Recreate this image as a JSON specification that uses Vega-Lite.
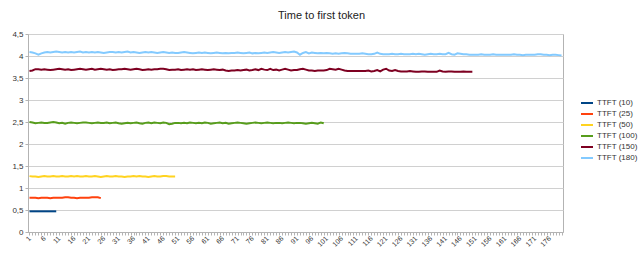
{
"$schema":"https://vega.github.io/schema/vega-lite/v6.json",
"width":535,"height":198,
"autosize":{"type":"none"},
"padding":{"left":28,"top":34,"right":80,"bottom":25},
"background":"white",
"title":{"text":"Time to first token","fontSize":11,"fontWeight":"normal","font":"Liberation Sans","color":"#222222","offset":9,"dx":26,"frame":"group","anchor":"middle"},
"data":{"values":[
{"s":"TTFT (10)","x":1,"y":0.47},{"s":"TTFT (10)","x":2,"y":0.47},{"s":"TTFT (10)","x":3,"y":0.47},{"s":"TTFT (10)","x":4,"y":0.47},{"s":"TTFT (10)","x":5,"y":0.47},{"s":"TTFT (10)","x":6,"y":0.47},{"s":"TTFT (10)","x":7,"y":0.47},{"s":"TTFT (10)","x":8,"y":0.47},{"s":"TTFT (10)","x":9,"y":0.47},{"s":"TTFT (10)","x":10,"y":0.47},
{"s":"TTFT (25)","x":1,"y":0.78},{"s":"TTFT (25)","x":2,"y":0.78},{"s":"TTFT (25)","x":3,"y":0.78},{"s":"TTFT (25)","x":4,"y":0.77},{"s":"TTFT (25)","x":5,"y":0.78},{"s":"TTFT (25)","x":6,"y":0.78},{"s":"TTFT (25)","x":7,"y":0.78},{"s":"TTFT (25)","x":8,"y":0.77},{"s":"TTFT (25)","x":9,"y":0.78},{"s":"TTFT (25)","x":10,"y":0.78},
{"s":"TTFT (25)","x":11,"y":0.78},{"s":"TTFT (25)","x":12,"y":0.78},{"s":"TTFT (25)","x":13,"y":0.79},{"s":"TTFT (25)","x":14,"y":0.79},{"s":"TTFT (25)","x":15,"y":0.78},{"s":"TTFT (25)","x":16,"y":0.78},{"s":"TTFT (25)","x":17,"y":0.77},{"s":"TTFT (25)","x":18,"y":0.78},{"s":"TTFT (25)","x":19,"y":0.78},{"s":"TTFT (25)","x":20,"y":0.78},
{"s":"TTFT (25)","x":21,"y":0.78},{"s":"TTFT (25)","x":22,"y":0.79},{"s":"TTFT (25)","x":23,"y":0.79},{"s":"TTFT (25)","x":24,"y":0.79},{"s":"TTFT (25)","x":25,"y":0.77},
{"s":"TTFT (50)","x":1,"y":1.27},{"s":"TTFT (50)","x":2,"y":1.26},{"s":"TTFT (50)","x":3,"y":1.26},{"s":"TTFT (50)","x":4,"y":1.25},{"s":"TTFT (50)","x":5,"y":1.26},{"s":"TTFT (50)","x":6,"y":1.27},{"s":"TTFT (50)","x":7,"y":1.26},{"s":"TTFT (50)","x":8,"y":1.26},{"s":"TTFT (50)","x":9,"y":1.27},{"s":"TTFT (50)","x":10,"y":1.26},
{"s":"TTFT (50)","x":11,"y":1.26},{"s":"TTFT (50)","x":12,"y":1.27},{"s":"TTFT (50)","x":13,"y":1.26},{"s":"TTFT (50)","x":14,"y":1.26},{"s":"TTFT (50)","x":15,"y":1.27},{"s":"TTFT (50)","x":16,"y":1.26},{"s":"TTFT (50)","x":17,"y":1.27},{"s":"TTFT (50)","x":18,"y":1.26},{"s":"TTFT (50)","x":19,"y":1.26},{"s":"TTFT (50)","x":20,"y":1.27},
{"s":"TTFT (50)","x":21,"y":1.26},{"s":"TTFT (50)","x":22,"y":1.26},{"s":"TTFT (50)","x":23,"y":1.27},{"s":"TTFT (50)","x":24,"y":1.26},{"s":"TTFT (50)","x":25,"y":1.25},{"s":"TTFT (50)","x":26,"y":1.26},{"s":"TTFT (50)","x":27,"y":1.27},{"s":"TTFT (50)","x":28,"y":1.26},{"s":"TTFT (50)","x":29,"y":1.26},{"s":"TTFT (50)","x":30,"y":1.27},
{"s":"TTFT (50)","x":31,"y":1.26},{"s":"TTFT (50)","x":32,"y":1.26},{"s":"TTFT (50)","x":33,"y":1.25},{"s":"TTFT (50)","x":34,"y":1.26},{"s":"TTFT (50)","x":35,"y":1.26},{"s":"TTFT (50)","x":36,"y":1.27},{"s":"TTFT (50)","x":37,"y":1.26},{"s":"TTFT (50)","x":38,"y":1.27},{"s":"TTFT (50)","x":39,"y":1.26},{"s":"TTFT (50)","x":40,"y":1.26},
{"s":"TTFT (50)","x":41,"y":1.25},{"s":"TTFT (50)","x":42,"y":1.26},{"s":"TTFT (50)","x":43,"y":1.27},{"s":"TTFT (50)","x":44,"y":1.26},{"s":"TTFT (50)","x":45,"y":1.26},{"s":"TTFT (50)","x":46,"y":1.27},{"s":"TTFT (50)","x":47,"y":1.27},{"s":"TTFT (50)","x":48,"y":1.26},{"s":"TTFT (50)","x":49,"y":1.26},{"s":"TTFT (50)","x":50,"y":1.26},
{"s":"TTFT (100)","x":1,"y":2.50},{"s":"TTFT (100)","x":2,"y":2.49},{"s":"TTFT (100)","x":3,"y":2.47},{"s":"TTFT (100)","x":4,"y":2.48},{"s":"TTFT (100)","x":5,"y":2.49},{"s":"TTFT (100)","x":6,"y":2.48},{"s":"TTFT (100)","x":7,"y":2.48},{"s":"TTFT (100)","x":8,"y":2.49},{"s":"TTFT (100)","x":9,"y":2.50},{"s":"TTFT (100)","x":10,"y":2.49},
{"s":"TTFT (100)","x":11,"y":2.47},{"s":"TTFT (100)","x":12,"y":2.48},{"s":"TTFT (100)","x":13,"y":2.46},{"s":"TTFT (100)","x":14,"y":2.48},{"s":"TTFT (100)","x":15,"y":2.49},{"s":"TTFT (100)","x":16,"y":2.48},{"s":"TTFT (100)","x":17,"y":2.47},{"s":"TTFT (100)","x":18,"y":2.48},{"s":"TTFT (100)","x":19,"y":2.49},{"s":"TTFT (100)","x":20,"y":2.49},
{"s":"TTFT (100)","x":21,"y":2.48},{"s":"TTFT (100)","x":22,"y":2.47},{"s":"TTFT (100)","x":23,"y":2.48},{"s":"TTFT (100)","x":24,"y":2.49},{"s":"TTFT (100)","x":25,"y":2.48},{"s":"TTFT (100)","x":26,"y":2.48},{"s":"TTFT (100)","x":27,"y":2.49},{"s":"TTFT (100)","x":28,"y":2.47},{"s":"TTFT (100)","x":29,"y":2.48},{"s":"TTFT (100)","x":30,"y":2.49},
{"s":"TTFT (100)","x":31,"y":2.47},{"s":"TTFT (100)","x":32,"y":2.46},{"s":"TTFT (100)","x":33,"y":2.47},{"s":"TTFT (100)","x":34,"y":2.48},{"s":"TTFT (100)","x":35,"y":2.47},{"s":"TTFT (100)","x":36,"y":2.48},{"s":"TTFT (100)","x":37,"y":2.49},{"s":"TTFT (100)","x":38,"y":2.47},{"s":"TTFT (100)","x":39,"y":2.46},{"s":"TTFT (100)","x":40,"y":2.48},
{"s":"TTFT (100)","x":41,"y":2.49},{"s":"TTFT (100)","x":42,"y":2.47},{"s":"TTFT (100)","x":43,"y":2.49},{"s":"TTFT (100)","x":44,"y":2.48},{"s":"TTFT (100)","x":45,"y":2.47},{"s":"TTFT (100)","x":46,"y":2.49},{"s":"TTFT (100)","x":47,"y":2.48},{"s":"TTFT (100)","x":48,"y":2.45},{"s":"TTFT (100)","x":49,"y":2.46},{"s":"TTFT (100)","x":50,"y":2.48},
{"s":"TTFT (100)","x":51,"y":2.48},{"s":"TTFT (100)","x":52,"y":2.47},{"s":"TTFT (100)","x":53,"y":2.48},{"s":"TTFT (100)","x":54,"y":2.47},{"s":"TTFT (100)","x":55,"y":2.49},{"s":"TTFT (100)","x":56,"y":2.48},{"s":"TTFT (100)","x":57,"y":2.47},{"s":"TTFT (100)","x":58,"y":2.48},{"s":"TTFT (100)","x":59,"y":2.47},{"s":"TTFT (100)","x":60,"y":2.49},
{"s":"TTFT (100)","x":61,"y":2.48},{"s":"TTFT (100)","x":62,"y":2.46},{"s":"TTFT (100)","x":63,"y":2.47},{"s":"TTFT (100)","x":64,"y":2.48},{"s":"TTFT (100)","x":65,"y":2.49},{"s":"TTFT (100)","x":66,"y":2.47},{"s":"TTFT (100)","x":67,"y":2.48},{"s":"TTFT (100)","x":68,"y":2.46},{"s":"TTFT (100)","x":69,"y":2.47},{"s":"TTFT (100)","x":70,"y":2.48},
{"s":"TTFT (100)","x":71,"y":2.49},{"s":"TTFT (100)","x":72,"y":2.48},{"s":"TTFT (100)","x":73,"y":2.47},{"s":"TTFT (100)","x":74,"y":2.46},{"s":"TTFT (100)","x":75,"y":2.47},{"s":"TTFT (100)","x":76,"y":2.48},{"s":"TTFT (100)","x":77,"y":2.49},{"s":"TTFT (100)","x":78,"y":2.48},{"s":"TTFT (100)","x":79,"y":2.47},{"s":"TTFT (100)","x":80,"y":2.48},
{"s":"TTFT (100)","x":81,"y":2.49},{"s":"TTFT (100)","x":82,"y":2.48},{"s":"TTFT (100)","x":83,"y":2.47},{"s":"TTFT (100)","x":84,"y":2.48},{"s":"TTFT (100)","x":85,"y":2.48},{"s":"TTFT (100)","x":86,"y":2.47},{"s":"TTFT (100)","x":87,"y":2.48},{"s":"TTFT (100)","x":88,"y":2.49},{"s":"TTFT (100)","x":89,"y":2.48},{"s":"TTFT (100)","x":90,"y":2.47},
{"s":"TTFT (100)","x":91,"y":2.48},{"s":"TTFT (100)","x":92,"y":2.48},{"s":"TTFT (100)","x":93,"y":2.47},{"s":"TTFT (100)","x":94,"y":2.46},{"s":"TTFT (100)","x":95,"y":2.47},{"s":"TTFT (100)","x":96,"y":2.48},{"s":"TTFT (100)","x":97,"y":2.47},{"s":"TTFT (100)","x":98,"y":2.46},{"s":"TTFT (100)","x":99,"y":2.49},{"s":"TTFT (100)","x":100,"y":2.47},
{"s":"TTFT (150)","x":1,"y":3.66},{"s":"TTFT (150)","x":2,"y":3.67},{"s":"TTFT (150)","x":3,"y":3.70},{"s":"TTFT (150)","x":4,"y":3.70},{"s":"TTFT (150)","x":5,"y":3.69},{"s":"TTFT (150)","x":6,"y":3.70},{"s":"TTFT (150)","x":7,"y":3.69},{"s":"TTFT (150)","x":8,"y":3.68},{"s":"TTFT (150)","x":9,"y":3.69},{"s":"TTFT (150)","x":10,"y":3.70},
{"s":"TTFT (150)","x":11,"y":3.71},{"s":"TTFT (150)","x":12,"y":3.70},{"s":"TTFT (150)","x":13,"y":3.69},{"s":"TTFT (150)","x":14,"y":3.70},{"s":"TTFT (150)","x":15,"y":3.68},{"s":"TTFT (150)","x":16,"y":3.69},{"s":"TTFT (150)","x":17,"y":3.70},{"s":"TTFT (150)","x":18,"y":3.71},{"s":"TTFT (150)","x":19,"y":3.70},{"s":"TTFT (150)","x":20,"y":3.69},
{"s":"TTFT (150)","x":21,"y":3.70},{"s":"TTFT (150)","x":22,"y":3.71},{"s":"TTFT (150)","x":23,"y":3.69},{"s":"TTFT (150)","x":24,"y":3.70},{"s":"TTFT (150)","x":25,"y":3.71},{"s":"TTFT (150)","x":26,"y":3.70},{"s":"TTFT (150)","x":27,"y":3.69},{"s":"TTFT (150)","x":28,"y":3.70},{"s":"TTFT (150)","x":29,"y":3.68},{"s":"TTFT (150)","x":30,"y":3.69},
{"s":"TTFT (150)","x":31,"y":3.70},{"s":"TTFT (150)","x":32,"y":3.70},{"s":"TTFT (150)","x":33,"y":3.71},{"s":"TTFT (150)","x":34,"y":3.70},{"s":"TTFT (150)","x":35,"y":3.69},{"s":"TTFT (150)","x":36,"y":3.70},{"s":"TTFT (150)","x":37,"y":3.71},{"s":"TTFT (150)","x":38,"y":3.70},{"s":"TTFT (150)","x":39,"y":3.68},{"s":"TTFT (150)","x":40,"y":3.69},
{"s":"TTFT (150)","x":41,"y":3.70},{"s":"TTFT (150)","x":42,"y":3.69},{"s":"TTFT (150)","x":43,"y":3.70},{"s":"TTFT (150)","x":44,"y":3.70},{"s":"TTFT (150)","x":45,"y":3.71},{"s":"TTFT (150)","x":46,"y":3.71},{"s":"TTFT (150)","x":47,"y":3.70},{"s":"TTFT (150)","x":48,"y":3.68},{"s":"TTFT (150)","x":49,"y":3.69},{"s":"TTFT (150)","x":50,"y":3.69},
{"s":"TTFT (150)","x":51,"y":3.70},{"s":"TTFT (150)","x":52,"y":3.68},{"s":"TTFT (150)","x":53,"y":3.69},{"s":"TTFT (150)","x":54,"y":3.70},{"s":"TTFT (150)","x":55,"y":3.69},{"s":"TTFT (150)","x":56,"y":3.70},{"s":"TTFT (150)","x":57,"y":3.68},{"s":"TTFT (150)","x":58,"y":3.69},{"s":"TTFT (150)","x":59,"y":3.70},{"s":"TTFT (150)","x":60,"y":3.69},
{"s":"TTFT (150)","x":61,"y":3.68},{"s":"TTFT (150)","x":62,"y":3.69},{"s":"TTFT (150)","x":63,"y":3.70},{"s":"TTFT (150)","x":64,"y":3.69},{"s":"TTFT (150)","x":65,"y":3.68},{"s":"TTFT (150)","x":66,"y":3.69},{"s":"TTFT (150)","x":67,"y":3.67},{"s":"TTFT (150)","x":68,"y":3.66},{"s":"TTFT (150)","x":69,"y":3.67},{"s":"TTFT (150)","x":70,"y":3.67},
{"s":"TTFT (150)","x":71,"y":3.68},{"s":"TTFT (150)","x":72,"y":3.67},{"s":"TTFT (150)","x":73,"y":3.68},{"s":"TTFT (150)","x":74,"y":3.69},{"s":"TTFT (150)","x":75,"y":3.67},{"s":"TTFT (150)","x":76,"y":3.68},{"s":"TTFT (150)","x":77,"y":3.70},{"s":"TTFT (150)","x":78,"y":3.68},{"s":"TTFT (150)","x":79,"y":3.71},{"s":"TTFT (150)","x":80,"y":3.69},
{"s":"TTFT (150)","x":81,"y":3.68},{"s":"TTFT (150)","x":82,"y":3.71},{"s":"TTFT (150)","x":83,"y":3.68},{"s":"TTFT (150)","x":84,"y":3.69},{"s":"TTFT (150)","x":85,"y":3.67},{"s":"TTFT (150)","x":86,"y":3.69},{"s":"TTFT (150)","x":87,"y":3.71},{"s":"TTFT (150)","x":88,"y":3.69},{"s":"TTFT (150)","x":89,"y":3.67},{"s":"TTFT (150)","x":90,"y":3.68},
{"s":"TTFT (150)","x":91,"y":3.68},{"s":"TTFT (150)","x":92,"y":3.70},{"s":"TTFT (150)","x":93,"y":3.71},{"s":"TTFT (150)","x":94,"y":3.69},{"s":"TTFT (150)","x":95,"y":3.67},{"s":"TTFT (150)","x":96,"y":3.67},{"s":"TTFT (150)","x":97,"y":3.66},{"s":"TTFT (150)","x":98,"y":3.67},{"s":"TTFT (150)","x":99,"y":3.67},{"s":"TTFT (150)","x":100,"y":3.67},
{"s":"TTFT (150)","x":101,"y":3.68},{"s":"TTFT (150)","x":102,"y":3.71},{"s":"TTFT (150)","x":103,"y":3.70},{"s":"TTFT (150)","x":104,"y":3.69},{"s":"TTFT (150)","x":105,"y":3.71},{"s":"TTFT (150)","x":106,"y":3.69},{"s":"TTFT (150)","x":107,"y":3.67},{"s":"TTFT (150)","x":108,"y":3.66},{"s":"TTFT (150)","x":109,"y":3.66},{"s":"TTFT (150)","x":110,"y":3.66},
{"s":"TTFT (150)","x":111,"y":3.66},{"s":"TTFT (150)","x":112,"y":3.66},{"s":"TTFT (150)","x":113,"y":3.66},{"s":"TTFT (150)","x":114,"y":3.66},{"s":"TTFT (150)","x":115,"y":3.67},{"s":"TTFT (150)","x":116,"y":3.65},{"s":"TTFT (150)","x":117,"y":3.66},{"s":"TTFT (150)","x":118,"y":3.68},{"s":"TTFT (150)","x":119,"y":3.65},{"s":"TTFT (150)","x":120,"y":3.69},
{"s":"TTFT (150)","x":121,"y":3.71},{"s":"TTFT (150)","x":122,"y":3.67},{"s":"TTFT (150)","x":123,"y":3.66},{"s":"TTFT (150)","x":124,"y":3.68},{"s":"TTFT (150)","x":125,"y":3.66},{"s":"TTFT (150)","x":126,"y":3.65},{"s":"TTFT (150)","x":127,"y":3.65},{"s":"TTFT (150)","x":128,"y":3.65},{"s":"TTFT (150)","x":129,"y":3.66},{"s":"TTFT (150)","x":130,"y":3.65},
{"s":"TTFT (150)","x":131,"y":3.64},{"s":"TTFT (150)","x":132,"y":3.64},{"s":"TTFT (150)","x":133,"y":3.65},{"s":"TTFT (150)","x":134,"y":3.65},{"s":"TTFT (150)","x":135,"y":3.64},{"s":"TTFT (150)","x":136,"y":3.64},{"s":"TTFT (150)","x":137,"y":3.64},{"s":"TTFT (150)","x":138,"y":3.64},{"s":"TTFT (150)","x":139,"y":3.67},{"s":"TTFT (150)","x":140,"y":3.65},
{"s":"TTFT (150)","x":141,"y":3.64},{"s":"TTFT (150)","x":142,"y":3.65},{"s":"TTFT (150)","x":143,"y":3.65},{"s":"TTFT (150)","x":144,"y":3.64},{"s":"TTFT (150)","x":145,"y":3.64},{"s":"TTFT (150)","x":146,"y":3.64},{"s":"TTFT (150)","x":147,"y":3.65},{"s":"TTFT (150)","x":148,"y":3.64},{"s":"TTFT (150)","x":149,"y":3.64},{"s":"TTFT (150)","x":150,"y":3.64},
{"s":"TTFT (180)","x":1,"y":4.09},{"s":"TTFT (180)","x":2,"y":4.08},{"s":"TTFT (180)","x":3,"y":4.06},{"s":"TTFT (180)","x":4,"y":4.03},{"s":"TTFT (180)","x":5,"y":4.06},{"s":"TTFT (180)","x":6,"y":4.08},{"s":"TTFT (180)","x":7,"y":4.09},{"s":"TTFT (180)","x":8,"y":4.08},{"s":"TTFT (180)","x":9,"y":4.09},{"s":"TTFT (180)","x":10,"y":4.10},
{"s":"TTFT (180)","x":11,"y":4.09},{"s":"TTFT (180)","x":12,"y":4.08},{"s":"TTFT (180)","x":13,"y":4.09},{"s":"TTFT (180)","x":14,"y":4.08},{"s":"TTFT (180)","x":15,"y":4.09},{"s":"TTFT (180)","x":16,"y":4.08},{"s":"TTFT (180)","x":17,"y":4.09},{"s":"TTFT (180)","x":18,"y":4.10},{"s":"TTFT (180)","x":19,"y":4.08},{"s":"TTFT (180)","x":20,"y":4.09},
{"s":"TTFT (180)","x":21,"y":4.08},{"s":"TTFT (180)","x":22,"y":4.09},{"s":"TTFT (180)","x":23,"y":4.08},{"s":"TTFT (180)","x":24,"y":4.09},{"s":"TTFT (180)","x":25,"y":4.08},{"s":"TTFT (180)","x":26,"y":4.07},{"s":"TTFT (180)","x":27,"y":4.08},{"s":"TTFT (180)","x":28,"y":4.09},{"s":"TTFT (180)","x":29,"y":4.09},{"s":"TTFT (180)","x":30,"y":4.08},
{"s":"TTFT (180)","x":31,"y":4.09},{"s":"TTFT (180)","x":32,"y":4.08},{"s":"TTFT (180)","x":33,"y":4.09},{"s":"TTFT (180)","x":34,"y":4.10},{"s":"TTFT (180)","x":35,"y":4.08},{"s":"TTFT (180)","x":36,"y":4.09},{"s":"TTFT (180)","x":37,"y":4.08},{"s":"TTFT (180)","x":38,"y":4.07},{"s":"TTFT (180)","x":39,"y":4.08},{"s":"TTFT (180)","x":40,"y":4.09},
{"s":"TTFT (180)","x":41,"y":4.08},{"s":"TTFT (180)","x":42,"y":4.09},{"s":"TTFT (180)","x":43,"y":4.08},{"s":"TTFT (180)","x":44,"y":4.07},{"s":"TTFT (180)","x":45,"y":4.08},{"s":"TTFT (180)","x":46,"y":4.09},{"s":"TTFT (180)","x":47,"y":4.08},{"s":"TTFT (180)","x":48,"y":4.07},{"s":"TTFT (180)","x":49,"y":4.08},{"s":"TTFT (180)","x":50,"y":4.07},
{"s":"TTFT (180)","x":51,"y":4.07},{"s":"TTFT (180)","x":52,"y":4.08},{"s":"TTFT (180)","x":53,"y":4.09},{"s":"TTFT (180)","x":54,"y":4.08},{"s":"TTFT (180)","x":55,"y":4.07},{"s":"TTFT (180)","x":56,"y":4.06},{"s":"TTFT (180)","x":57,"y":4.07},{"s":"TTFT (180)","x":58,"y":4.08},{"s":"TTFT (180)","x":59,"y":4.07},{"s":"TTFT (180)","x":60,"y":4.08},
{"s":"TTFT (180)","x":61,"y":4.07},{"s":"TTFT (180)","x":62,"y":4.06},{"s":"TTFT (180)","x":63,"y":4.07},{"s":"TTFT (180)","x":64,"y":4.08},{"s":"TTFT (180)","x":65,"y":4.07},{"s":"TTFT (180)","x":66,"y":4.06},{"s":"TTFT (180)","x":67,"y":4.07},{"s":"TTFT (180)","x":68,"y":4.06},{"s":"TTFT (180)","x":69,"y":4.07},{"s":"TTFT (180)","x":70,"y":4.07},
{"s":"TTFT (180)","x":71,"y":4.08},{"s":"TTFT (180)","x":72,"y":4.07},{"s":"TTFT (180)","x":73,"y":4.06},{"s":"TTFT (180)","x":74,"y":4.07},{"s":"TTFT (180)","x":75,"y":4.08},{"s":"TTFT (180)","x":76,"y":4.06},{"s":"TTFT (180)","x":77,"y":4.07},{"s":"TTFT (180)","x":78,"y":4.06},{"s":"TTFT (180)","x":79,"y":4.07},{"s":"TTFT (180)","x":80,"y":4.08},
{"s":"TTFT (180)","x":81,"y":4.07},{"s":"TTFT (180)","x":82,"y":4.08},{"s":"TTFT (180)","x":83,"y":4.09},{"s":"TTFT (180)","x":84,"y":4.08},{"s":"TTFT (180)","x":85,"y":4.07},{"s":"TTFT (180)","x":86,"y":4.08},{"s":"TTFT (180)","x":87,"y":4.09},{"s":"TTFT (180)","x":88,"y":4.08},{"s":"TTFT (180)","x":89,"y":4.09},{"s":"TTFT (180)","x":90,"y":4.10},
{"s":"TTFT (180)","x":91,"y":4.08},{"s":"TTFT (180)","x":92,"y":4.03},{"s":"TTFT (180)","x":93,"y":4.07},{"s":"TTFT (180)","x":94,"y":4.09},{"s":"TTFT (180)","x":95,"y":4.06},{"s":"TTFT (180)","x":96,"y":4.08},{"s":"TTFT (180)","x":97,"y":4.07},{"s":"TTFT (180)","x":98,"y":4.06},{"s":"TTFT (180)","x":99,"y":4.07},{"s":"TTFT (180)","x":100,"y":4.06},
{"s":"TTFT (180)","x":101,"y":4.07},{"s":"TTFT (180)","x":102,"y":4.06},{"s":"TTFT (180)","x":103,"y":4.05},{"s":"TTFT (180)","x":104,"y":4.06},{"s":"TTFT (180)","x":105,"y":4.05},{"s":"TTFT (180)","x":106,"y":4.06},{"s":"TTFT (180)","x":107,"y":4.07},{"s":"TTFT (180)","x":108,"y":4.06},{"s":"TTFT (180)","x":109,"y":4.05},{"s":"TTFT (180)","x":110,"y":4.05},
{"s":"TTFT (180)","x":111,"y":4.05},{"s":"TTFT (180)","x":112,"y":4.05},{"s":"TTFT (180)","x":113,"y":4.06},{"s":"TTFT (180)","x":114,"y":4.05},{"s":"TTFT (180)","x":115,"y":4.04},{"s":"TTFT (180)","x":116,"y":4.04},{"s":"TTFT (180)","x":117,"y":4.05},{"s":"TTFT (180)","x":118,"y":4.08},{"s":"TTFT (180)","x":119,"y":4.05},{"s":"TTFT (180)","x":120,"y":4.04},
{"s":"TTFT (180)","x":121,"y":4.04},{"s":"TTFT (180)","x":122,"y":4.04},{"s":"TTFT (180)","x":123,"y":4.05},{"s":"TTFT (180)","x":124,"y":4.04},{"s":"TTFT (180)","x":125,"y":4.04},{"s":"TTFT (180)","x":126,"y":4.05},{"s":"TTFT (180)","x":127,"y":4.04},{"s":"TTFT (180)","x":128,"y":4.04},{"s":"TTFT (180)","x":129,"y":4.04},{"s":"TTFT (180)","x":130,"y":4.05},
{"s":"TTFT (180)","x":131,"y":4.04},{"s":"TTFT (180)","x":132,"y":4.05},{"s":"TTFT (180)","x":133,"y":4.04},{"s":"TTFT (180)","x":134,"y":4.03},{"s":"TTFT (180)","x":135,"y":4.04},{"s":"TTFT (180)","x":136,"y":4.05},{"s":"TTFT (180)","x":137,"y":4.04},{"s":"TTFT (180)","x":138,"y":4.04},{"s":"TTFT (180)","x":139,"y":4.05},{"s":"TTFT (180)","x":140,"y":4.04},
{"s":"TTFT (180)","x":141,"y":4.04},{"s":"TTFT (180)","x":142,"y":4.07},{"s":"TTFT (180)","x":143,"y":4.04},{"s":"TTFT (180)","x":144,"y":4.03},{"s":"TTFT (180)","x":145,"y":4.06},{"s":"TTFT (180)","x":146,"y":4.05},{"s":"TTFT (180)","x":147,"y":4.04},{"s":"TTFT (180)","x":148,"y":4.04},{"s":"TTFT (180)","x":149,"y":4.03},{"s":"TTFT (180)","x":150,"y":4.03},
{"s":"TTFT (180)","x":151,"y":4.03},{"s":"TTFT (180)","x":152,"y":4.03},{"s":"TTFT (180)","x":153,"y":4.04},{"s":"TTFT (180)","x":154,"y":4.03},{"s":"TTFT (180)","x":155,"y":4.03},{"s":"TTFT (180)","x":156,"y":4.03},{"s":"TTFT (180)","x":157,"y":4.04},{"s":"TTFT (180)","x":158,"y":4.03},{"s":"TTFT (180)","x":159,"y":4.03},{"s":"TTFT (180)","x":160,"y":4.03},
{"s":"TTFT (180)","x":161,"y":4.03},{"s":"TTFT (180)","x":162,"y":4.03},{"s":"TTFT (180)","x":163,"y":4.03},{"s":"TTFT (180)","x":164,"y":4.04},{"s":"TTFT (180)","x":165,"y":4.03},{"s":"TTFT (180)","x":166,"y":4.03},{"s":"TTFT (180)","x":167,"y":4.02},{"s":"TTFT (180)","x":168,"y":4.03},{"s":"TTFT (180)","x":169,"y":4.03},{"s":"TTFT (180)","x":170,"y":4.03},
{"s":"TTFT (180)","x":171,"y":4.03},{"s":"TTFT (180)","x":172,"y":4.04},{"s":"TTFT (180)","x":173,"y":4.04},{"s":"TTFT (180)","x":174,"y":4.03},{"s":"TTFT (180)","x":175,"y":4.03},{"s":"TTFT (180)","x":176,"y":4.02},{"s":"TTFT (180)","x":177,"y":4.03},{"s":"TTFT (180)","x":178,"y":4.03},{"s":"TTFT (180)","x":179,"y":4.02},{"s":"TTFT (180)","x":180,"y":4.01}
]},
"mark":{"type":"line","strokeWidth":2},
"encoding":{
"x":{"field":"x","type":"ordinal","scale":{"type":"point","padding":0.5},
 "axis":{"title":null,"labelAngle":-45,"labelAlign":"right","labelBaseline":"middle","labelFontSize":7,"labelColor":"#333333","labelOverlap":false,"labelBound":false,"labelPadding":2,"tickSize":3,"tickColor":"#b3b3b3","domainColor":"#b3b3b3","grid":false,
 "labelExpr":"(datum.value - 1) % 5 == 0 ? datum.label : ''"}},
"y":{"field":"y","type":"quantitative","scale":{"domain":[0,4.5],"nice":false},
 "axis":{"title":null,"values":[0,0.5,1,1.5,2,2.5,3,3.5,4,4.5],"labelFontSize":8,"labelColor":"#333333","labelPadding":2,"tickSize":3,"tickColor":"#b3b3b3","domainColor":"#b3b3b3","gridColor":"#d0d0d0",
 "labelExpr":"replace(format(datum.value, '~g'), '.', ',')"}},
"color":{"field":"s","type":"nominal",
 "scale":{"domain":["TTFT (10)","TTFT (25)","TTFT (50)","TTFT (100)","TTFT (150)","TTFT (180)"],"range":["#004586","#ff420e","#ffd320","#579d1c","#7e0021","#83caff"]},
 "legend":{"title":null,"orient":"none","legendX":552,"legendY":62,"symbolType":"stroke","symbolStrokeWidth":2,"symbolSize":144,"labelFontSize":8,"labelColor":"#333333","rowPadding":-1.5,"labelOffset":3}}
},
"config":{"view":{"stroke":"#b3b3b3"},"font":"Liberation Sans"}
}
